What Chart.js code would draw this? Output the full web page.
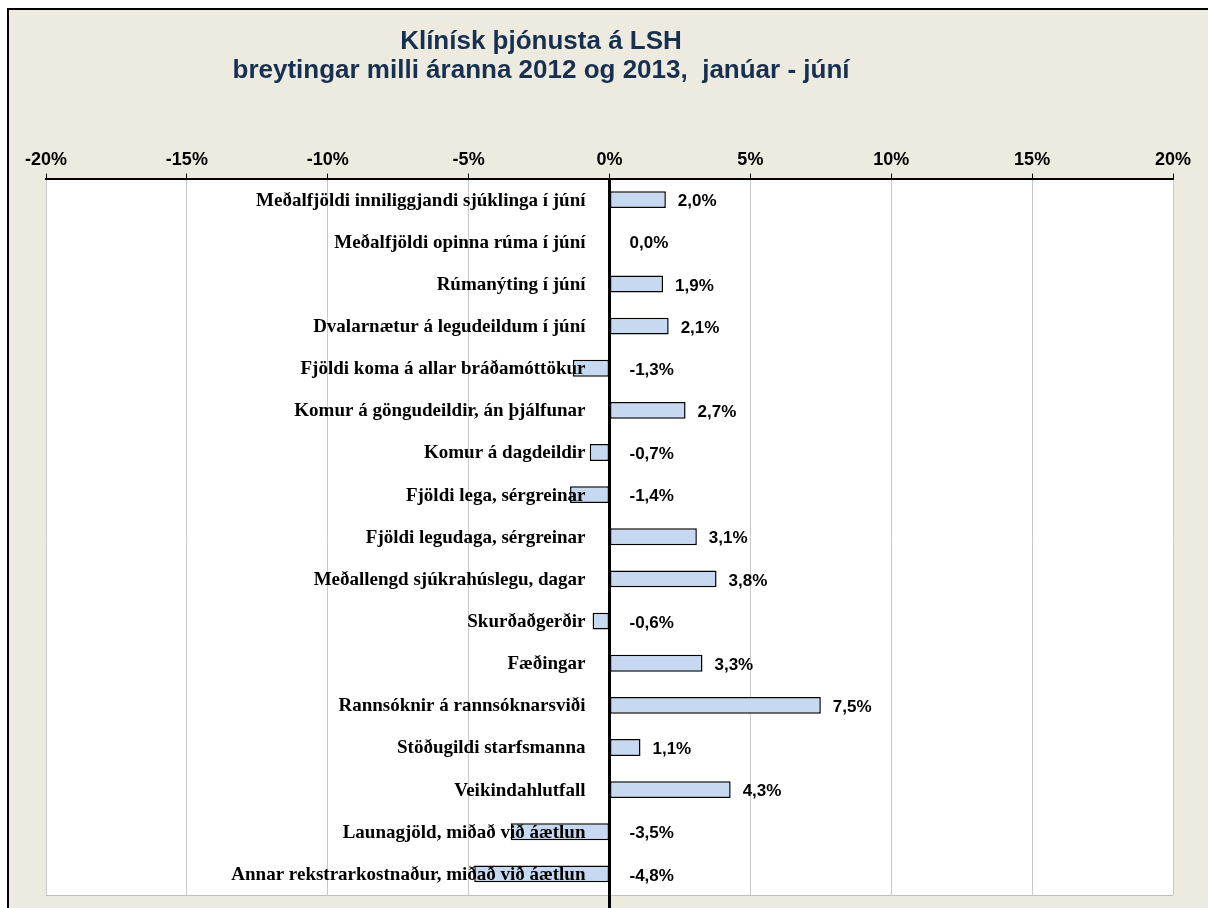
<!DOCTYPE html>
<html>
<head>
<meta charset="utf-8">
<script src="https://cdn.jsdelivr.net/npm/chart.js@4"></script>
<style>
  html, body { margin: 0; padding: 0; background: #ffffff; }
  #wrap { position: absolute; left: 0; top: 0; width: 1208px; height: 908px; }
</style>
</head>
<body>
<div id="wrap"><canvas id="c" width="1208" height="908"></canvas></div>
<script>
const titleLines = ["Klínísk þjónusta á LSH", "breytingar milli áranna 2012 og 2013,  janúar - júní"];
const categories = [
  "Meðalfjöldi inniliggjandi sjúklinga í júní",
  "Meðalfjöldi opinna rúma í júní",
  "Rúmanýting í júní",
  "Dvalarnætur á legudeildum í júní",
  "Fjöldi koma á allar bráðamóttökur",
  "Komur á göngudeildir, án þjálfunar",
  "Komur á dagdeildir",
  "Fjöldi lega, sérgreinar",
  "Fjöldi legudaga, sérgreinar",
  "Meðallengd sjúkrahúslegu, dagar",
  "Skurðaðgerðir",
  "Fæðingar",
  "Rannsóknir á rannsóknarsviði",
  "Stöðugildi starfsmanna",
  "Veikindahlutfall",
  "Launagjöld, miðað við áætlun",
  "Annar rekstrarkostnaður, miðað við áætlun"
];
const changes = [2.0, 0.0, 1.9, 2.1, -1.3, 2.7, -0.7, -1.4, 3.1, 3.8, -0.6, 3.3, 7.5, 1.1, 4.3, -3.5, -4.8];
const xTicks = [-20, -15, -10, -5, 0, 5, 10, 15, 20];

const fmt = v => v.toFixed(1).replace('.', ',') + '%';

const framePlugin = {
  id: 'frame',
  beforeDraw(chart) {
    const ctx = chart.ctx;
    ctx.save();
    ctx.fillStyle = '#ffffff';
    ctx.fillRect(0, 0, chart.width, chart.height);
    ctx.fillStyle = '#EDEAE0';
    ctx.fillRect(8, 9, chart.width - 8, chart.height - 9);
    ctx.strokeStyle = '#000000';
    ctx.lineWidth = 2;
    ctx.beginPath();
    ctx.moveTo(8, chart.height);
    ctx.lineTo(8, 9);
    ctx.lineTo(chart.width, 9);
    ctx.stroke();
    const a = chart.chartArea;
    ctx.fillStyle = '#ffffff';
    ctx.fillRect(a.left, a.top, a.right - a.left, a.bottom - a.top);
    // title
    ctx.fillStyle = '#17304F';
    ctx.font = 'bold 26px "Liberation Sans", Arial, sans-serif';
    ctx.textAlign = 'center';
    ctx.textBaseline = 'middle';
    const cx = 541;
    ctx.fillText(titleLines[0], cx, 42);
    ctx.fillText(titleLines[1], cx, 71);
    ctx.restore();
  },
  afterDatasetsDraw(chart) {
    const ctx = chart.ctx;
    const xs = chart.scales.x, ys = chart.scales.y;
    const a = chart.chartArea;
    const x0 = xs.getPixelForValue(0);
    ctx.save();
    // plot bottom border
    ctx.strokeStyle = '#BFBFBF';
    ctx.lineWidth = 1;
    ctx.beginPath();
    ctx.moveTo(a.left, a.bottom + 0.5);
    ctx.lineTo(a.right, a.bottom + 0.5);
    ctx.stroke();
    // zero line
    ctx.strokeStyle = '#000000';
    ctx.lineWidth = 3;
    ctx.beginPath();
    ctx.moveTo(x0, a.top);
    ctx.lineTo(x0, chart.height);
    ctx.stroke();
    // category labels
    ctx.fillStyle = '#000000';
    ctx.font = 'bold 19px "Liberation Serif", "Times New Roman", serif';
    ctx.textAlign = 'right';
    ctx.textBaseline = 'middle';
    categories.forEach((c, i) => {
      ctx.fillText(c, x0 - 24, ys.getPixelForValue(i) + 1);
    });
    // value labels
    ctx.font = 'bold 17px "Liberation Sans", Arial, sans-serif';
    ctx.textAlign = 'left';
    changes.forEach((v, i) => {
      const x = v > 0 ? xs.getPixelForValue(v) + 12 : x0 + 20;
      ctx.fillText(fmt(v), x, ys.getPixelForValue(i) + 2);
    });
    ctx.restore();
  }
};

new Chart(document.getElementById('c'), {
  type: 'bar',
  data: {
    labels: categories,
    datasets: [{
      data: changes,
      backgroundColor: '#C6D9F0',
      borderColor: '#000000',
      borderWidth: 1.5,
      borderSkipped: false,
      categoryPercentage: 1,
      barPercentage: 0.4
    }]
  },
  options: {
    indexAxis: 'y',
    responsive: false,
    animation: false,
    layout: { padding: { left: 46, right: 35, top: 146, bottom: 13 } },
    plugins: { legend: { display: false }, title: { display: false }, tooltip: { enabled: false } },
    scales: {
      x: {
        position: 'top',
        min: -20, max: 20,
        afterBuildTicks(scale) { scale.ticks = xTicks.map(v => ({ value: v })); },
        ticks: {
          callback: v => v + '%',
          color: '#000000',
          font: { family: '"Liberation Sans", Arial, sans-serif', size: 18, weight: 'bold' },
          padding: 3,
          maxRotation: 0
        },
        grid: { color: '#C8C8C8', lineWidth: 1, tickLength: 5, tickColor: '#000000', drawTicks: true },
        border: { display: true, color: '#000000', width: 2 }
      },
      y: {
        display: true,
        ticks: { display: false },
        grid: { display: false, drawTicks: false },
        border: { display: false }
      }
    }
  },
  plugins: [framePlugin]
});
</script>
</body>
</html>
